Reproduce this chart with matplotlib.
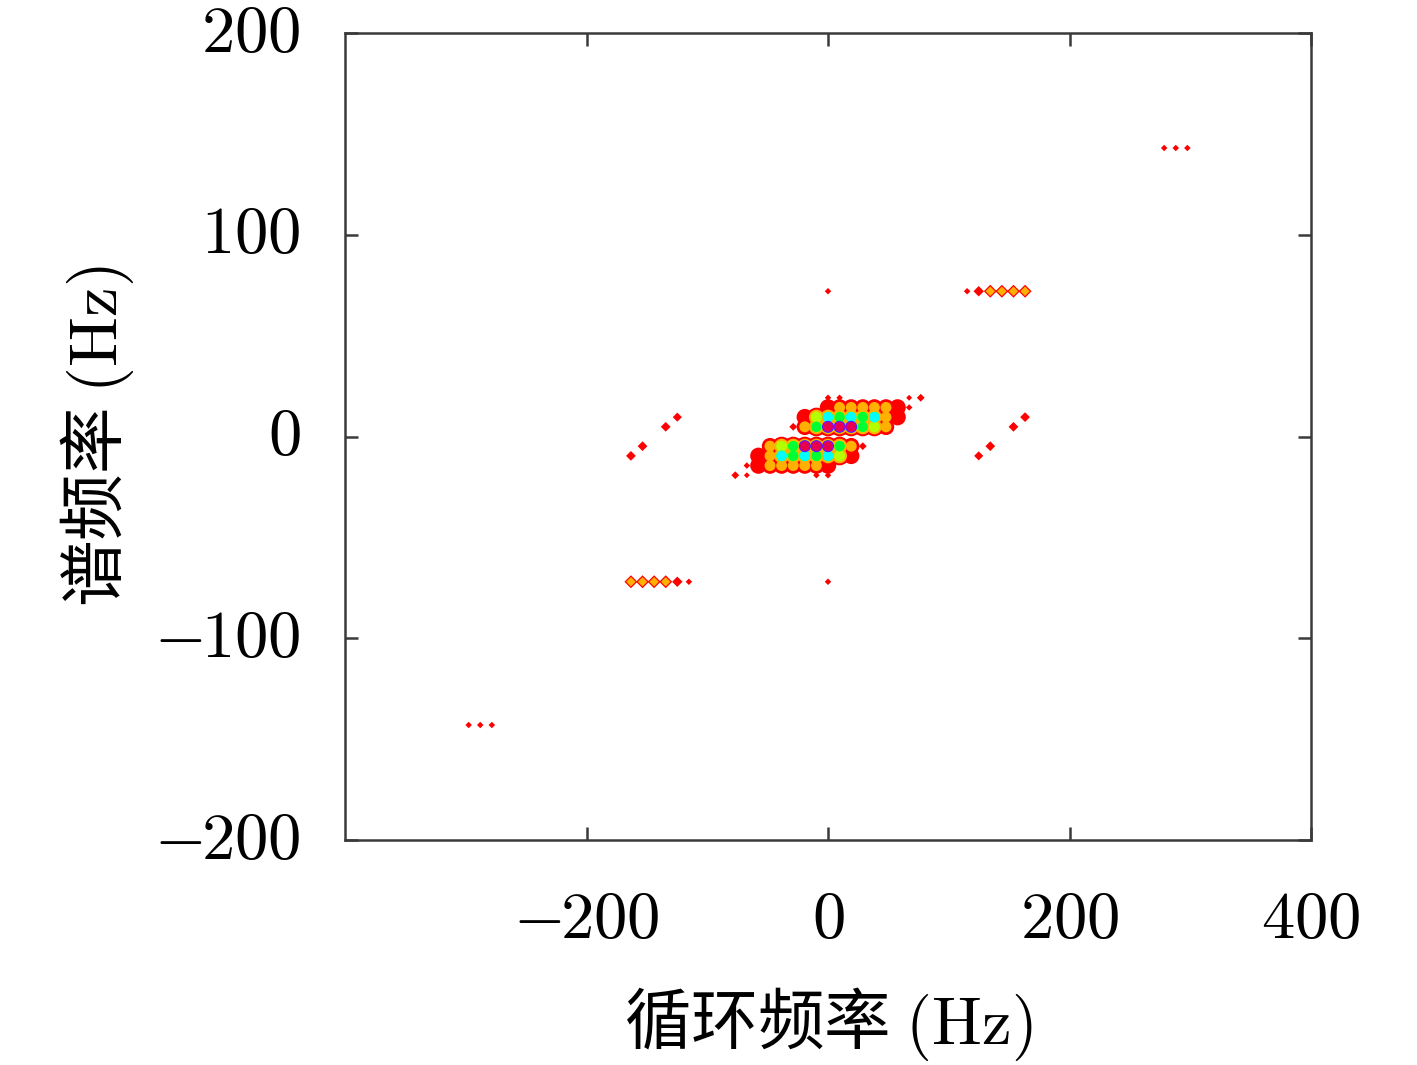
import matplotlib
matplotlib.use("Agg")
import matplotlib.pyplot as plt
import numpy as np

plt.rcParams['mathtext.fontset'] = 'cm'
plt.rcParams['font.family'] = ['Noto Sans CJK SC', 'DejaVu Sans']

# central cluster: levels on the (alpha, f) grid
cluster_alpha = [-86.4, -76.8, -67.2, -57.6, -48.0, -38.4, -28.8, -19.2, -9.6, 0.0,
                 9.6, 19.2, 28.8, 38.4, 48.0, 57.6, 67.2, 76.8, 86.4]
cluster_f = [19.2, 14.4, 9.6, 4.8, 0.0, -4.8, -9.6, -14.4, -19.2]
cluster_level = [
    [0, 0, 0, 0, 0, 0, 0, 0, 0, 0.5, 0.5, 0, 0, 0, 0, 0, 0.45, 0.6, 0],
    [0, 0, 0, 0, 0, 0, 0, 0, 0, 1, 2, 2, 2, 2, 2, 1, 0.5, 0, 0],
    [0, 0, 0, 0, 0, 0, 0, 1, 3, 5, 4, 5, 4, 5, 2, 1, 0, 0, 0],
    [0, 0, 0, 0, 0, 0, 0.6, 2, 4, 8, 8, 8, 4, 3, 2, 0, 0, 0, 0],
    [0, 0, 0, 0, 0, 0, 0, 0, 0, 0, 0, 0, 0, 0, 0, 0, 0, 0, 0],
    [0, 0, 0, 0, 2, 3, 4, 8, 8, 8, 4, 2, 0.6, 0, 0, 0, 0, 0, 0],
    [0, 0, 0, 1, 2, 5, 4, 5, 4, 5, 3, 1, 0, 0, 0, 0, 0, 0, 0],
    [0, 0, 0.5, 1, 2, 2, 2, 2, 2, 1, 0, 0, 0, 0, 0, 0, 0, 0, 0],
    [0, 0.6, 0.45, 0, 0, 0, 0, 0, 0.5, 0.5, 0, 0, 0, 0, 0, 0, 0, 0, 0],
]

# isolated peaks
iso_alpha = [0, 0,
             115.2, 124.8, 134.4, 144.0, 153.6, 163.2,
             -163.2, -153.6, -144.0, -134.4, -124.8, -115.2,
             278.4, 288.0, 297.6, -297.6, -288.0, -278.4,
             124.8, 134.4, 153.6, 163.2, -163.2, -153.6, -134.4, -124.8]
iso_f = [72, -72,
         72, 72, 72, 72, 72, 72,
         -72, -72, -72, -72, -72, -72,
         143, 143, 143, -143, -143, -143,
         -9.6, -4.8, 4.8, 9.6, -9.6, -4.8, 4.8, 9.6]
iso_level = [0.5, 0.5,
             0.5, 0.8, 2, 2, 2, 2,
             2, 2, 2, 2, 0.8, 0.5,
             0.5, 0.5, 0.5, 0.5, 0.5, 0.5,
             0.7, 0.75, 0.75, 0.75, 0.75, 0.75, 0.75, 0.7]

x_ticks = [-200, 0, 200, 400]
y_ticks = [-200, -100, 0, 100, 200]

# contour-like colour bands (hsv order)
band_colors = ['#ff0000', '#ffb000', '#b4ff00', '#00ff33', '#00ffff', '#1a33ff', '#9900ff', '#e6004d']
strong_px = [19, 15, 11, 10.5, 10.5, 12, 11, 9.5]   # cluster peaks, level >= 3
cluster_px = [16.5, 11]                              # cluster peaks, level 1-2
iso_px = [13, 9.5]                                   # isolated peaks (diamonds)

A, F = np.meshgrid(cluster_alpha, cluster_f)
alpha = np.concatenate([A.ravel(), iso_alpha])
freq = np.concatenate([F.ravel(), iso_f])
val = np.concatenate([np.array(cluster_level, float).ravel(), iso_level])
in_cluster = np.arange(len(val)) < A.size

fig = plt.figure(figsize=(14.17, 10.65), dpi=100)
ax = fig.add_axes([345/1417, 1-840/1065, 966/1417, 807/1065])

for j in range(len(band_colors)):
    on = (val > 0) if j == 0 else (val >= j + 1)
    w = np.zeros(len(val))
    round_ = np.zeros(len(val), bool)
    for i in np.where(on)[0]:
        v = val[i]
        if v < 1:
            w[i] = iso_px[0] * v
        elif v >= 3:
            w[i] = strong_px[j]
            round_[i] = True
        elif in_cluster[i]:
            w[i] = cluster_px[j]
            round_[i] = True
        else:
            w[i] = iso_px[j]
    sel = on & ~round_
    if sel.any():
        ax.scatter(alpha[sel], freq[sel], s=(w[sel]*0.72/1.414)**2, c=band_colors[j],
                   marker='D', linewidths=0, zorder=2+j)
    sel = on & round_
    if sel.any():
        ax.scatter(alpha[sel], freq[sel], s=(w[sel]*0.72)**2, c=band_colors[j],
                   marker='o', linewidths=0, zorder=2+j)

ax.set_xlim(-400, 400)
ax.set_ylim(-200, 200)
lab = lambda t: f'${{-}}\\hspace{{-0.08}}{abs(t)}$' if t < 0 else f'${t}$'
ax.set_xticks(x_ticks, [lab(t) for t in x_ticks])
ax.set_yticks(y_ticks, [lab(t) for t in y_ticks])
ax.tick_params(direction='in', length=9.5, width=1.8, top=True, right=True,
               labelsize=48, color='#3a3a3a')
ax.tick_params(axis='x', pad=33)
ax.tick_params(axis='y', pad=32)
for t in ax.get_yticklabels():
    t.set_va('center')
for sp in ax.spines.values():
    sp.set_linewidth(1.8)
    sp.set_color('#3a3a3a')

ax.set_xlabel('循环频率 $(\\mathrm{Hz})$', fontsize=48)
ax.set_ylabel('谱频率 $(\\mathrm{Hz})$', fontsize=48)
ax.xaxis.label.set_va('center')
ax.xaxis.set_label_coords(0.5, -0.228)
ax.yaxis.label.set_va('center')
ax.yaxis.set_label_coords(-0.257, 0.5)

fig.savefig('out.png', dpi=100, facecolor='white')
